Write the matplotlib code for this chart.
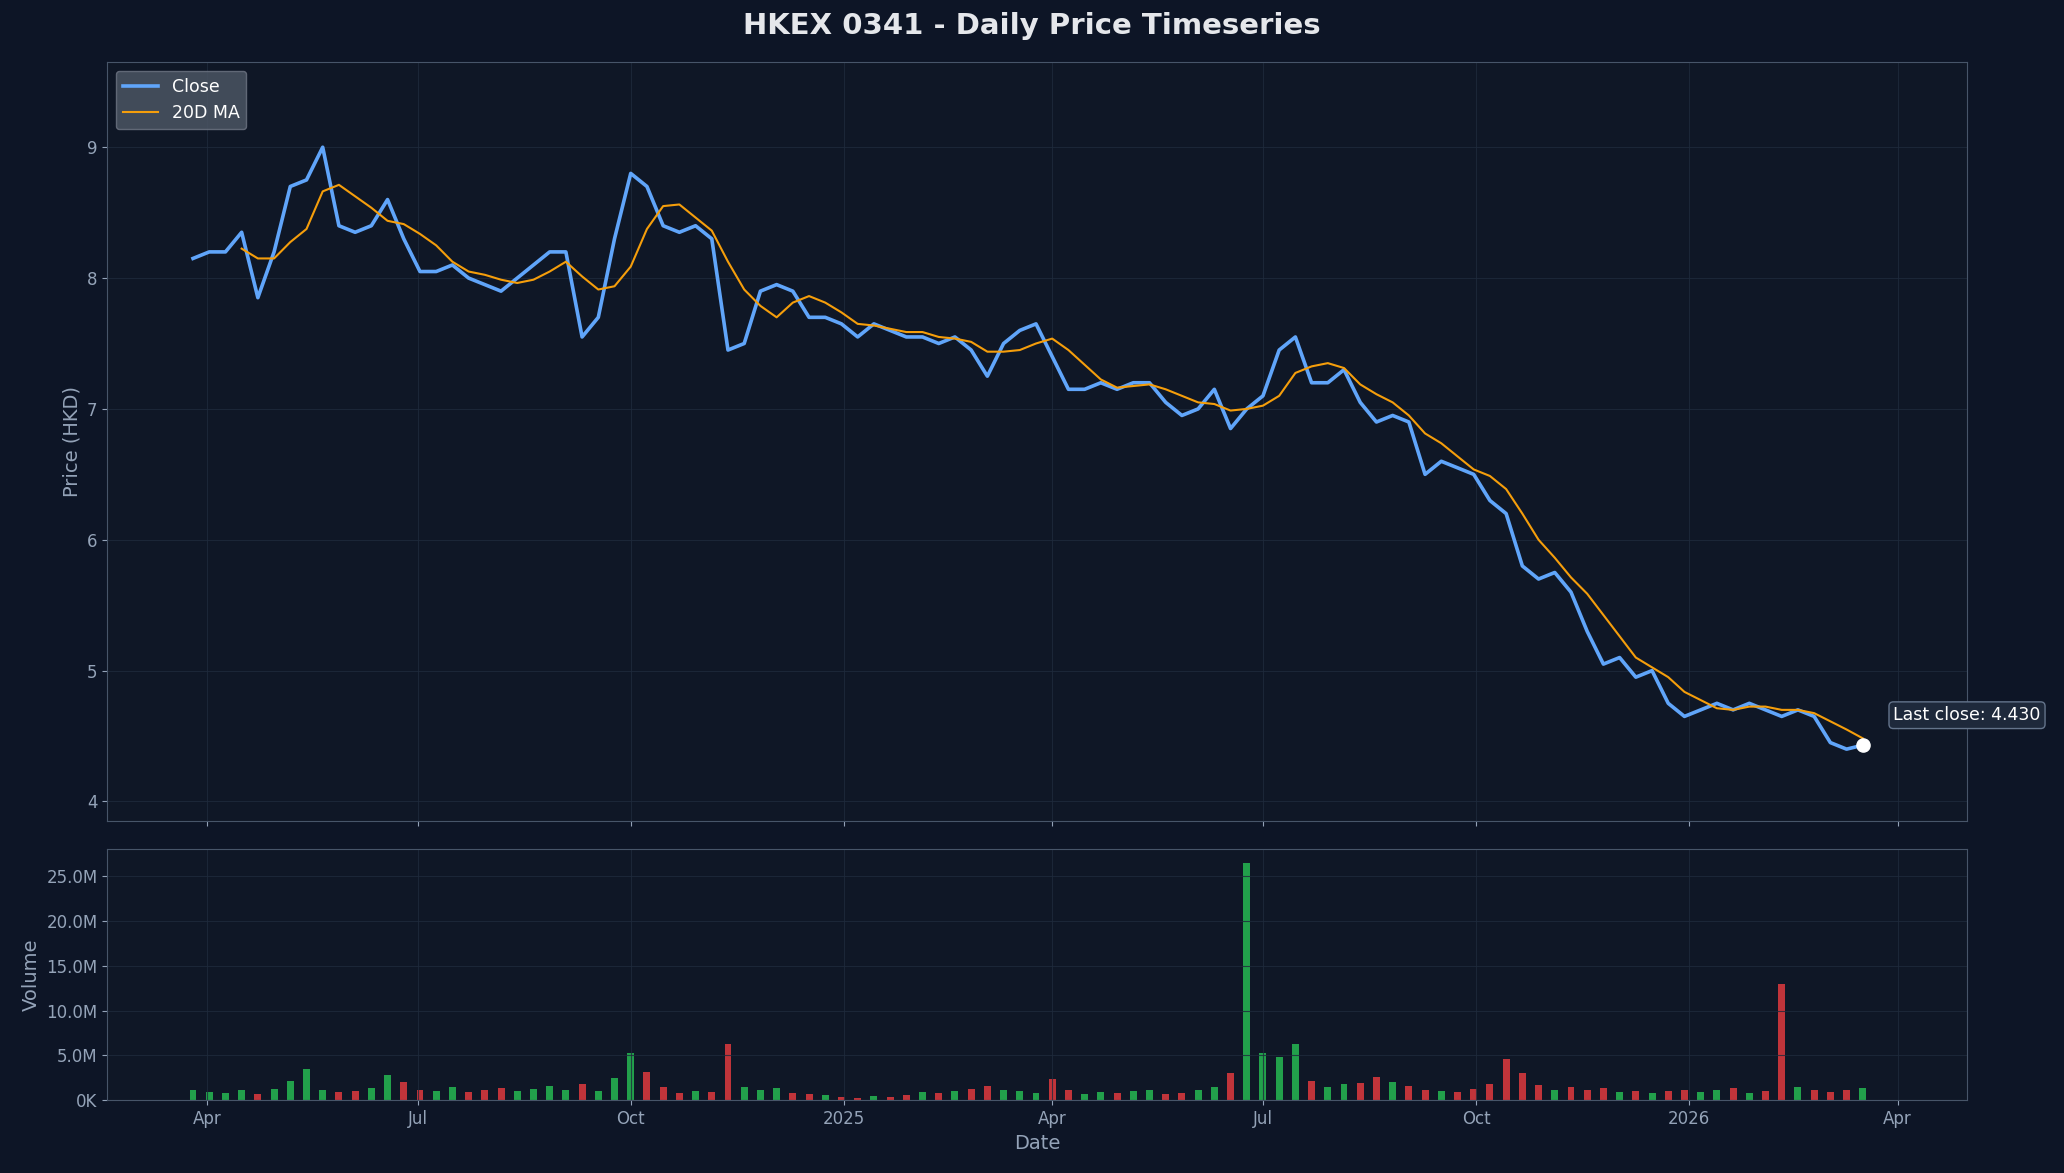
import numpy as np
import pandas as pd
import matplotlib
matplotlib.use("Agg")
import matplotlib.pyplot as plt
import matplotlib.dates as mdates
from matplotlib.ticker import FuncFormatter

# weekly closes (HKD)
closes = [8.15, 8.20, 8.20, 8.35, 7.85, 8.20, 8.70, 8.75, 9.00, 8.40, 8.35, 8.40, 8.60,
          8.30, 8.05, 8.05, 8.10, 8.00, 7.95, 7.90, 8.00, 8.10, 8.20, 8.20, 7.55, 7.70,
          8.30, 8.80, 8.70, 8.40, 8.35, 8.40, 8.30, 7.45, 7.50, 7.90, 7.95, 7.90, 7.70,
          7.70, 7.65, 7.55, 7.65, 7.60, 7.55, 7.55, 7.50, 7.55, 7.45, 7.25, 7.50, 7.60,
          7.65, 7.40, 7.15, 7.15, 7.20, 7.15, 7.20, 7.20, 7.05, 6.95, 7.00, 7.15, 6.85,
          7.00, 7.10, 7.45, 7.55, 7.20, 7.20, 7.30, 7.05, 6.90, 6.95, 6.90, 6.50, 6.60,
          6.55, 6.50, 6.30, 6.20, 5.80, 5.70, 5.75, 5.60, 5.30, 5.05, 5.10, 4.95, 5.00,
          4.75, 4.65, 4.70, 4.75, 4.70, 4.75, 4.70, 4.65, 4.70, 4.65, 4.45, 4.40, 4.43]
# weekly volume (millions)
volumes = [1.2, 0.9, 0.8, 1.1, 0.7, 1.3, 2.2, 3.5, 1.2, 0.9, 1.0, 1.4, 2.8,
           2.0, 1.2, 1.0, 1.5, 0.9, 1.2, 1.4, 1.0, 1.3, 1.6, 1.2, 1.8, 1.0,
           2.5, 5.3, 3.2, 1.5, 0.8, 1.0, 0.9, 6.3, 1.5, 1.2, 1.4, 0.8, 0.7,
           0.6, 0.4, 0.3, 0.5, 0.4, 0.6, 0.9, 0.8, 1.0, 1.3, 1.6, 1.2, 1.0,
           0.8, 2.4, 1.1, 0.7, 0.9, 0.8, 1.0, 1.1, 0.7, 0.8, 1.2, 1.5, 3.0,
           26.5, 5.3, 4.8, 6.3, 2.1, 1.5, 1.8, 1.9, 2.6, 2.0, 1.6, 1.2, 1.0,
           0.9, 1.3, 1.8, 4.6, 3.0, 1.7, 1.2, 1.5, 1.1, 1.4, 0.9, 1.0, 0.8,
           1.0, 1.2, 0.9, 1.1, 1.4, 0.8, 1.0, 13.0, 1.5, 1.2, 0.9, 1.1, 1.4]
dates = pd.date_range("2024-03-26", periods=len(closes), freq="7D")

close = pd.Series(closes, index=dates)
ma = close.rolling(4).mean()
vol = np.array(volumes) * 1e6
up = np.r_[True, np.diff(closes) >= 0]

BG = "#0d1526"
AX = "#0f1726"
TXT = "#94a3b8"
SP = "#475569"

plt.rcParams["font.family"] = ["DejaVu Sans"]
fig = plt.figure(figsize=(20.64, 11.73), dpi=100, facecolor=BG)
ax = fig.add_axes([0.052, 0.300, 0.901, 0.647])
axv = fig.add_axes([0.052, 0.062, 0.901, 0.214], sharex=ax)

for a in (ax, axv):
    a.set_facecolor(AX)
    for s in a.spines.values():
        s.set_color(SP)
    a.tick_params(colors=TXT, labelsize=12)
    a.grid(True, color="#1f2a3c", linewidth=0.8, alpha=0.8)

ax.plot(dates, close, color="#60a5fa", linewidth=2.6, label="Close")
ax.plot(dates, ma, color="#f59e0b", linewidth=1.5, label="20D MA")
ax.scatter([dates[-1]], [closes[-1]], s=90, color="white", zorder=5)
ax.annotate(f"Last close: {closes[-1]:.3f}", (dates[-1], closes[-1]), xytext=(22, 18),
            textcoords="offset points", color="white", fontsize=12.5,
            bbox=dict(boxstyle="round,pad=0.25", facecolor="#1e293b", edgecolor="#64748b"))
ax.set_ylim(3.85, 9.65)
ax.set_ylabel("Price (HKD)", color=TXT, fontsize=14)
ax.tick_params(labelbottom=False)
leg = ax.legend(loc="upper left", fontsize=12.5, facecolor="#4b5563", edgecolor="#6b7280",
                framealpha=0.85)
for t in leg.get_texts():
    t.set_color("white")

axv.bar(dates, vol, width=3, color=np.where(up, "#22a04b", "#c0343a"))
axv.set_ylim(0, 28e6)
axv.set_yticks(np.arange(0, 26e6, 5e6))
axv.yaxis.set_major_formatter(FuncFormatter(lambda v, p: "0K" if v == 0 else f"{v/1e6:.1f}M"))
axv.set_ylabel("Volume", color=TXT, fontsize=14)
axv.set_xlabel("Date", color=TXT, fontsize=14)
axv.set_xlim(pd.Timestamp("2024-02-18"), pd.Timestamp("2026-05-01"))
axv.xaxis.set_major_locator(mdates.MonthLocator(bymonth=[1, 4, 7, 10]))
axv.xaxis.set_major_formatter(FuncFormatter(
    lambda v, p: str(mdates.num2date(v).year) if mdates.num2date(v).month == 1
    else mdates.num2date(v).strftime("%b")))

fig.suptitle("HKEX 0341 - Daily Price Timeseries", color="#e5e7eb", fontsize=21,
             fontweight="bold", y=0.99)
fig.savefig("out.png", dpi=100, facecolor=BG)
